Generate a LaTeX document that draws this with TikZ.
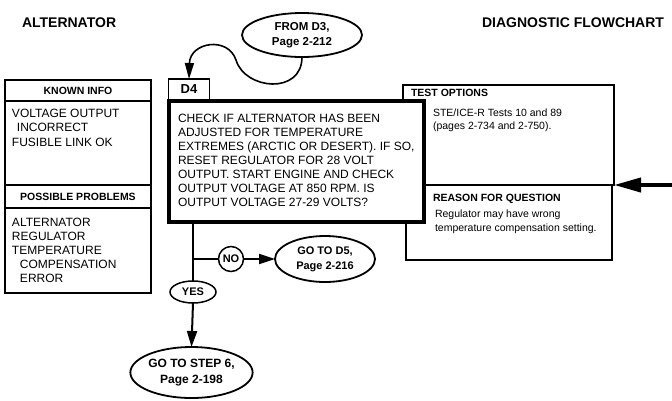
\documentclass[tikz,border=0pt]{standalone}
\usepackage{fontspec}
\setmainfont{Liberation Sans}
\usetikzlibrary{arrows.meta,shapes.geometric}
\begin{document}
\begin{tikzpicture}[x=1pt,y=-1pt,
  every node/.style={inner sep=0pt, outer sep=0pt},
  title/.style={font=\bfseries\fontsize{14}{16}\selectfont},
  hdr/.style={font=\bfseries\fontsize{10.5}{12}\selectfont},
  bigtxt/.style={anchor=west, align=left, font=\fontsize{12}{14}\selectfont},
  smalltxt/.style={anchor=west, align=left, font=\fontsize{10.5}{13.5}\selectfont},
  oval/.style={ellipse, draw, line width=1.8pt, align=center, font=\bfseries\fontsize{11}{15}\selectfont},
  thinbox/.style={line width=1.2pt},
  midbox/.style={line width=1.6pt},
  flow/.style={line width=2pt},
  tip/.style={-{Triangle[length=16pt,width=10pt]}},
]
\useasboundingbox (0,0) rectangle (672,400);
\fill[white] (0,0) rectangle (672,400);

% titles
\node[title, anchor=west] (t1) at (22,23) {ALTERNATOR};
\node[title, anchor=east] (t2) at (664,23) {DIAGNOSTIC FLOWCHART};

% left information box
\draw[thinbox] (5,80) rectangle (151,293);
\draw[thinbox] (5,101) -- (151,101);
\draw[line width=1.6pt] (5,185) -- (151,185);
\draw[thinbox] (5,208) -- (151,208);
\node[hdr] (kh) at (78,90.5) {KNOWN INFO};
\node[bigtxt, font=\fontsize{12}{14.5}\selectfont] (kt) at (12,127.5)
  {VOLTAGE OUTPUT\\\hspace*{5pt}INCORRECT\\FUSIBLE LINK OK};
\node[hdr] (ph) at (78,197) {POSSIBLE PROBLEMS};
\node[bigtxt] (pt) at (12,250)
  {ALTERNATOR\\REGULATOR\\TEMPERATURE\\\hspace*{8pt}COMPENSATION\\\hspace*{8pt}ERROR};

% test options / reason boxes
\node[draw, midbox, minimum width=211pt, minimum height=100pt, anchor=north west] (topt) at (403,85) {};
\node[draw, midbox, minimum width=206pt, minimum height=75pt, anchor=north west] (reason) at (406,185) {};
\node[hdr, anchor=west] (toh) at (411,92.5) {TEST OPTIONS};
\node[smalltxt] (tot) at (433,120.5) {STE/ICE-R Tests 10 and 89\\(pages 2-734 and 2-750).};
\node[hdr, anchor=west] (rh) at (433,199) {REASON FOR QUESTION};
\node[smalltxt] (rt) at (435,222) {Regulator may have wrong\\temperature compensation setting.};

% D4 tab and main question box
\node[draw, line width=1.5pt, minimum width=41pt, minimum height=21pt,
      font=\bfseries\fontsize{13}{15}\selectfont] (d4) at (189,89.5) {D4};
\node[draw, line width=4pt, fill=white, minimum width=255pt, minimum height=121pt, anchor=north west] (main) at (169,101) {};
\node[bigtxt] (mt) at (178,160.5)
  {CHECK IF ALTERNATOR HAS BEEN\\ADJUSTED FOR TEMPERATURE\\EXTREMES (ARCTIC OR DESERT). IF SO,\\RESET REGULATOR FOR 28 VOLT\\OUTPUT. START ENGINE AND CHECK\\OUTPUT VOLTAGE AT 850 RPM. IS\\OUTPUT VOLTAGE 27-29 VOLTS?};

% terminals
\node[oval, minimum width=120pt, minimum height=44pt, font=\bfseries\fontsize{11.5}{15}\selectfont] (from) at (302,35) {FROM D3,\\Page 2-212};
\node[oval, minimum width=100pt, minimum height=46pt] (d5) at (325,259) {GO TO D5,\\Page 2-216};
\node[oval, minimum width=117pt, minimum height=51pt, font=\bfseries\fontsize{12}{15.5}\selectfont] (s6) at (191.5,372.5) {GO TO STEP 6,\\Page 2-198};
\node[circle, draw, line width=1.5pt, minimum size=25pt, font=\bfseries\fontsize{11}{12}\selectfont] (no) at (231,259) {NO};
\node[ellipse, draw, line width=1.5pt, minimum width=46pt, minimum height=22pt, font=\bfseries\fontsize{11}{12}\selectfont] (yes) at (193,292) {YES};

% connectors
\draw[line width=1.6pt, -{Triangle[length=16pt,width=9pt]}]
  (from.south) .. controls (302,95) and (245,90) .. (236,60)
  .. controls (228,36) and (190,42) .. (d4.north);
\coordinate (br) at (193,259);
\draw[flow] (main.south -| yes.north) -- (yes.north);
\draw[flow] (br) -- (no.west);
\draw[flow, tip] (no.east) -- (d5.west);
\draw[flow, tip] (yes.south) -- (s6.north);
\coordinate (rin) at (672,185);
\draw[line width=4pt, -{Triangle[length=27pt,width=14pt]}] (rin) -- (topt.south east);
\end{tikzpicture}
\end{document}
